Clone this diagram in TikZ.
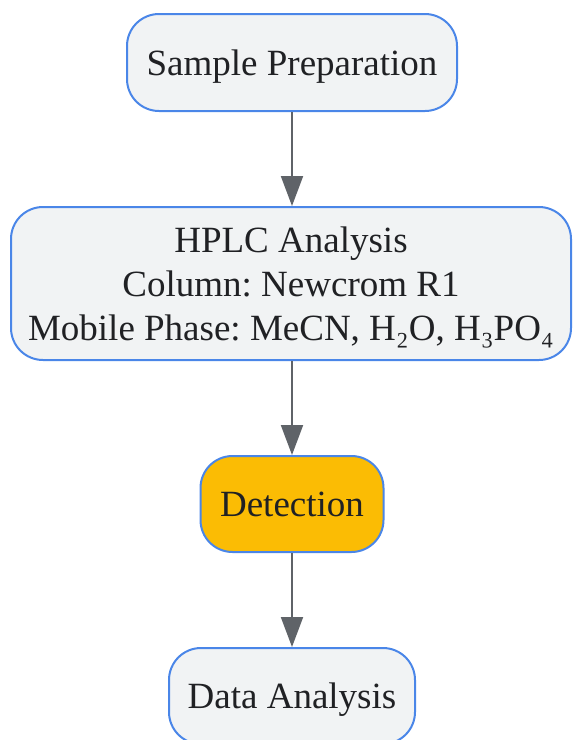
\documentclass[tikz,border=0pt]{standalone}
\usepackage{fontspec}
\setmainfont{Liberation Serif}
\usetikzlibrary{arrows.meta}
\definecolor{bord}{HTML}{4A86E8}
\definecolor{boxfill}{HTML}{F1F3F4}
\definecolor{orangefill}{HTML}{FBBC04}
\definecolor{arrgray}{HTML}{5F6368}
\definecolor{txt}{HTML}{202124}
\tikzset{
  stepbox/.style={draw=bord, line width=1.5pt, fill=boxfill, rounded corners=24pt,
    align=center, inner sep=0pt, text depth=0pt, text=txt, font=\fontsize{27.75}{33}\selectfont\frenchspacing},
  arr/.style={draw=arrgray, line width=1.5pt, -{Triangle[length=22.5pt,width=16.5pt]}}
}
\begin{document}
\begin{tikzpicture}[x=0.75pt,y=-0.75pt]
\useasboundingbox (0,0) rectangle (572,740);
\clip (0,0) rectangle (572,740);
\node[stepbox, minimum width=247.5pt, minimum height=72.75pt] (n1) at (292,62.5) {Sample Preparation};
\node[stepbox, minimum width=420pt, minimum height=114.75pt] (n2) at (291,283.5) {HPLC Analysis\\Column: Newcrom R1\\Mobile Phase: MeCN, H₂O, H₃PO₄};
\node[stepbox, fill=orangefill, minimum width=137.25pt, minimum height=72pt] (n3) at (292,504) {Detection};
\node[stepbox, minimum width=184.5pt, minimum height=72pt] (n4) at (292,696) {Data Analysis};
\draw[arr] (n1) -- (n2.north -| n1);
\draw[arr] (n2.south -| n3) -- (n3);
\draw[arr] (n3) -- (n4);
\end{tikzpicture}
\end{document}
